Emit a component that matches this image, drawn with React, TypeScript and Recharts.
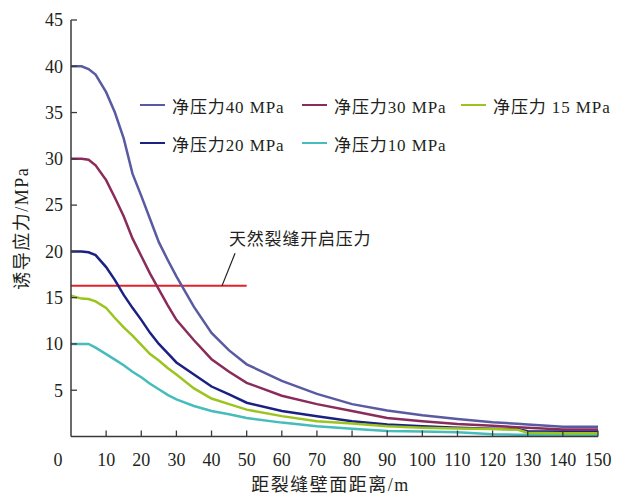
import { LineChart, Line, XAxis, YAxis, ReferenceLine, Legend } from "recharts";

// distance from the fracture wall (m)
const distances = [0, 3, 5, 7, 10, 12.5, 15, 17.5, 20, 22.5, 25, 27.5, 30, 35, 40, 45, 50, 60, 70, 80, 90, 100, 110, 120, 127, 130, 140, 150];

// induced stress (MPa) for each net pressure
const net40 = [40, 40, 39.7, 39.1, 37.2, 35.0, 32.2, 28.4, 26.0, 23.5, 21.0, 19.1, 17.3, 14.0, 11.2, 9.3, 7.8, 6.0, 4.6, 3.5, 2.8, 2.3, 1.9, 1.55, 1.38, 1.3, 1.05, 1.05];
const net30 = [30, 30, 29.9, 29.3, 27.7, 25.8, 23.8, 21.4, 19.5, 17.6, 15.9, 14.2, 12.6, 10.4, 8.35, 7.0, 5.8, 4.4, 3.5, 2.75, 2.0, 1.66, 1.35, 1.15, 1.0, 0.95, 0.75, 0.75];
const net20 = [20, 20, 19.9, 19.6, 18.3, 16.9, 15.3, 13.9, 12.6, 11.2, 10.0, 9.0, 8.0, 6.7, 5.4, 4.55, 3.65, 2.75, 2.2, 1.65, 1.3, 1.1, 0.95, 0.83, 0.8, 0.58, 0.55, 0.55];
const net15 = [15.2, 14.9, 14.85, 14.6, 13.9, 12.8, 11.8, 10.9, 9.9, 8.9, 8.2, 7.4, 6.7, 5.2, 4.1, 3.5, 2.9, 2.2, 1.65, 1.4, 1.1, 0.95, 0.87, 0.8, 0.75, 0.4, 0.35, 0.35];
const net10 = [10, 10, 10, 9.6, 8.9, 8.3, 7.7, 7.0, 6.4, 5.7, 5.1, 4.5, 4.0, 3.3, 2.75, 2.4, 2.0, 1.5, 1.1, 0.85, 0.6, 0.55, 0.47, 0.25, 0.2, 0.2, 0.2, 0.2];

const xTicks = [0, 10, 20, 30, 40, 50, 60, 70, 80, 90, 100, 110, 120, 130, 140, 150];
const yTicks = [5, 10, 15, 20, 25, 30, 35, 40, 45];

const openingPressure = 16.3;
const openingLabel = "天然裂缝开启压力";

// legend order as in the figure
const series = [
  { key: "p40", name: "净压力40 MPa", color: "#5a5aa2" },
  { key: "p30", name: "净压力30 MPa", color: "#8a2c5b" },
  { key: "p15", name: "净压力 15 MPa", color: "#9cc41e" },
  { key: "p20", name: "净压力20 MPa", color: "#1b2183" },
  { key: "p10", name: "净压力10 MPa", color: "#46bcbc" },
];

const data = distances.map((x, i) => ({
  x,
  p40: net40[i],
  p30: net30[i],
  p20: net20[i],
  p15: net15[i],
  p10: net10[i],
}));

const FONT = '"Liberation Serif", "Noto Sans CJK SC", serif';
const INK = "#231f20";
const AXIS = "#3a3a3a";

function YTick({ x, y, payload }: any) {
  return (
    <g>
      <line x1={x} x2={x + 6} y1={y} y2={y} stroke={AXIS} strokeWidth={1.3} />
      <text x={x - 8} y={y} dy="0.35em" textAnchor="end" fontSize={18} fontFamily={FONT} fill={INK}>
        {payload.value}
      </text>
    </g>
  );
}

function XTick({ x, y, payload }: any) {
  const zero = payload.value === 0;
  return (
    <g>
      {!zero && <line x1={x} x2={x} y1={y} y2={y - 6} stroke={AXIS} strokeWidth={1.3} />}
      <text x={zero ? x - 13 : x} y={y + 29} textAnchor="middle" fontSize={18} fontFamily={FONT} fill={INK}>
        {payload.value}
      </text>
    </g>
  );
}

function LegendBox() {
  const cols = [162, 159, 150];
  return (
    <div
      style={{
        display: "grid",
        gridTemplateColumns: cols.map((c) => `${c}px`).join(" "),
        gridAutoRows: "38px",
        fontFamily: FONT,
        fontSize: 17,
        letterSpacing: 0.9,
        color: INK,
      }}
    >
      {series.map((s) => (
        <div key={s.key} style={{ display: "flex", alignItems: "center", whiteSpace: "nowrap" }}>
          <span style={{ display: "inline-block", width: 25, height: 2.5, background: s.color, marginRight: 7 }} />
          <span>{s.name}</span>
        </div>
      ))}
    </div>
  );
}

export default function App() {
  return (
    <div style={{ position: "absolute", left: 0, top: 0, width: 627, height: 496, background: "#fff" }}>
      <LineChart
        width={627}
        height={496}
        data={data}
        margin={{ top: 20, right: 29, bottom: 0, left: 0 }}
      >
        <XAxis
          dataKey="x"
          type="number"
          domain={[0, 150]}
          ticks={xTicks}
          tick={<XTick />}
          tickLine={false}
          tickSize={0}
          tickMargin={0}
          height={59.5}
          axisLine={{ stroke: AXIS, strokeWidth: 1.5 }}
          label={{
            value: "距裂缝壁面距离/m",
            position: "insideBottom",
            offset: 5,
            dx: -4,
            style: { fontFamily: FONT, fontSize: 18, letterSpacing: 1.5, fill: INK },
          }}
        />
        <YAxis
          type="number"
          domain={[0, 45]}
          ticks={yTicks}
          tick={<YTick />}
          tickLine={false}
          tickSize={0}
          tickMargin={0}
          width={71}
          axisLine={{ stroke: AXIS, strokeWidth: 1.5 }}
          label={{
            value: "诱导应力/MPa",
            angle: -90,
            position: "insideLeft",
            offset: 22,
            style: { textAnchor: "middle", fontFamily: FONT, fontSize: 18, letterSpacing: 1.5, fill: INK },
          }}
        />
        <Legend
          layout="horizontal"
          verticalAlign="middle"
          align="center"
          content={() => <LegendBox />}
          wrapperStyle={{ left: 140, top: 86, width: 480 }}
        />
        <ReferenceLine
          segment={[
            { x: 0, y: openingPressure },
            { x: 50, y: openingPressure },
          ]}
          stroke="#e2232a"
          strokeWidth={2}
        />
        <ReferenceLine
          segment={[
            { x: 43, y: openingPressure },
            { x: 46.7, y: 19.8 },
          ]}
          stroke={INK}
          strokeWidth={1.2}
        />
        {[...series].reverse().map((s) => (
          <Line
            key={s.key}
            type="linear"
            dataKey={s.key}
            name={s.name}
            stroke={s.color}
            strokeWidth={2.5}
            dot={false}
            isAnimationActive={false}
          />
        ))}
      </LineChart>
      <div
        style={{
          position: "absolute",
          left: 229,
          top: 230,
          fontFamily: FONT,
          fontSize: 17,
          letterSpacing: 0.8,
          color: INK,
          whiteSpace: "nowrap",
          lineHeight: "20px",
        }}
      >
        {openingLabel}
      </div>
    </div>
  );
}
